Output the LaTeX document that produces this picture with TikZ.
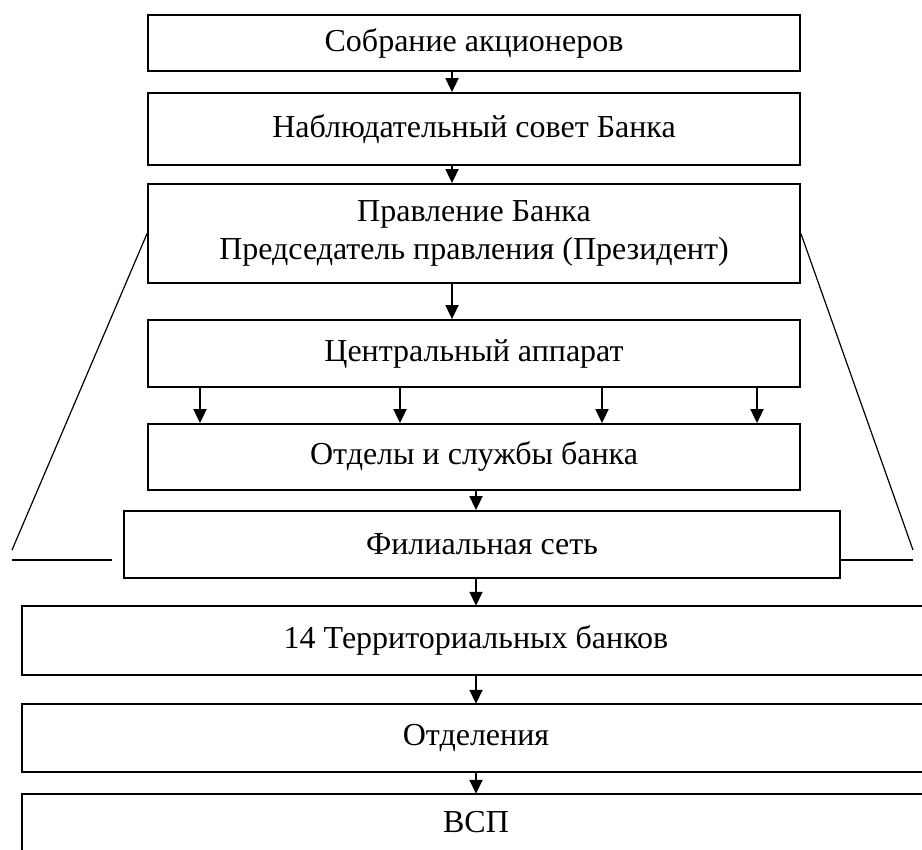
\documentclass[tikz,border=0pt]{standalone}
\usepackage{fontspec}
\setmainfont{Liberation Serif}
\usetikzlibrary{arrows.meta}
\begin{document}
\begin{tikzpicture}[x=1pt,y=-1pt,
  box/.style={draw,line width=1.8pt,rectangle,inner sep=0pt,align=center,font=\fontsize{32}{38}\selectfont},
  openbox/.style={rectangle,inner sep=0pt,align=center,font=\fontsize{32}{38}\selectfont},
  arr/.style={line width=1.8pt,-{Triangle[length=14pt,width=13pt]}},
  thin line/.style={line width=1.2pt}]
\useasboundingbox (0,0) rectangle (922,850);
\node[box,minimum width=652pt,minimum height=56pt] (b1) at (474,43) {Собрание акционеров};
\node[box,minimum width=652pt,minimum height=72pt] (b2) at (474,129) {\raisebox{4pt}{Наблюдательный совет Банка}};
\node[box,minimum width=652pt,minimum height=99pt] (b3) at (474,233.5) {Правление Банка\\Председатель правления (Президент)};
\node[box,minimum width=652pt,minimum height=67pt] (b4) at (474,353.5) {Центральный аппарат};
\node[box,minimum width=652pt,minimum height=66pt] (b5) at (474,457) {Отделы и службы банка};
\node[box,minimum width=716pt,minimum height=67pt] (b6) at (482,544.5) {Филиальная сеть};
\node[openbox,minimum width=908pt,minimum height=69pt] (b7) at (476,640.5) {14 Территориальных банков};
\node[openbox,minimum width=908pt,minimum height=68pt] (b8) at (476,738) {Отделения};
\node[openbox,minimum width=908pt,minimum height=56pt] (b9) at (476,822) {ВСП};
\draw[line width=1.8pt] (b7.north east) -- (b7.north west) -- (b7.south west) -- (b7.south east);
\draw[line width=1.8pt] (b8.north east) -- (b8.north west) -- (b8.south west) -- (b8.south east);
\draw[line width=1.8pt] (b9.south west) -- (b9.north west) -- (b9.north east);
% arrows
\draw[arr] ([xshift=-22pt]b1.south) -- ([xshift=-22pt]b2.north);
\draw[arr] ([xshift=-22pt]b2.south) -- ([xshift=-22pt]b3.north);
\draw[arr] ([xshift=-22pt]b3.south) -- ([xshift=-22pt]b4.north);
\foreach \dx in {-274,-74,128,283}{
  \draw[arr] ([xshift=\dx pt]b4.south) -- ([xshift=\dx pt]b5.north);
}
\draw[arr] ([xshift=2pt]b5.south) -- ([xshift=-6pt]b6.north);
\draw[arr] ([xshift=-6pt]b6.south) -- (b7.north);
\draw[arr] (b7.south) -- (b8.north);
\draw[arr] (b8.south) -- (b9.north);
% trapezoid lines
\coordinate (dl) at (12,550);
\coordinate (dr) at (913,550);
\coordinate (hl1) at (12,560);
\coordinate (hl2) at (112,560);
\coordinate (hr) at (913,560);
\draw[thin line] (b3.west) -- (dl);
\draw[thin line] (b3.east) -- (dr);
\draw[thin line] (hl1) -- (hl2);
\draw[thin line] (b6.east |- hr) -- (hr);
\end{tikzpicture}
\end{document}
